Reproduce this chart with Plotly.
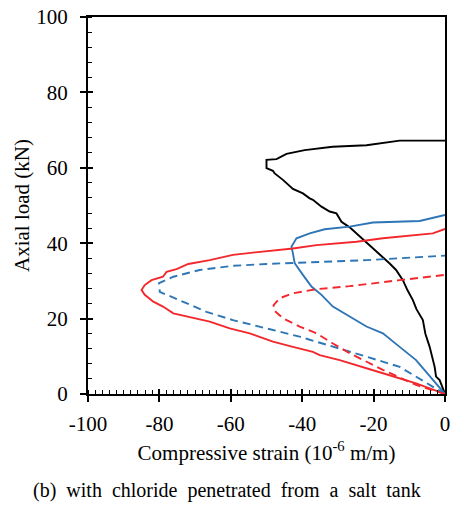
import plotly.graph_objects as go

# Black solid
blk_x = [0, -0.8, -1.5, -2.5, -2.9, -4.3, -5.5, -6.2, -8.0, -9.0, -10.5, -11.8, -13.7, -15.5, -17.4, -19.5, -22.0, -24.5, -26.7, -29.0, -30.4, -32.3, -34.6, -37.0, -37.9, -39.8, -42.6, -45.4, -47.7, -48.2, -50.0, -50.0, -47.2, -44.4, -39.3, -31.5, -22.0, -12.7, 0]
blk_y = [0, 1.9, 3.7, 4.6, 7.2, 12.5, 16.0, 19.6, 22.5, 24.9, 27.5, 30.2, 32.9, 34.6, 36.2, 38.2, 40.2, 42.2, 44.2, 45.7, 47.9, 48.4, 49.7, 51.5, 51.9, 53.2, 54.4, 56.8, 58.5, 59.2, 59.9, 62.1, 62.3, 63.7, 64.7, 65.6, 66.0, 67.2, 67.2]

# Blue solid
bs_x = [0, -3.4, -8.1, -12.7, -17.4, -22.0, -26.7, -31.4, -34.6, -37.4, -39.8, -42.1, -42.6, -43.0, -41.6, -37.9, -33.7, -26.7, -20.2, -7.1, 0]
bs_y = [0, 3.7, 9.0, 12.5, 16.1, 17.9, 20.5, 23.2, 26.3, 28.5, 31.6, 34.7, 37.3, 39.1, 41.3, 42.6, 43.7, 44.4, 45.5, 45.9, 47.5]

# Red solid
rs_x = [0, -8.1, -17.4, -22.0, -29.5, -35.1, -37.0, -42.6, -48.2, -54.7, -60.3, -65.9, -72.4, -76.1, -79.0, -81.7, -84.1, -85.0, -84.1, -82.2, -79.0, -78.0, -75.2, -71.9, -65.9, -59.4, -53.8, -42.6, -36.0, -24.8, -17.4, -3.4, 0]
rs_y = [0, 2.8, 5.5, 6.8, 9.0, 10.3, 11.2, 12.5, 13.9, 16.1, 17.4, 19.2, 20.5, 21.4, 23.2, 24.5, 26.3, 27.6, 28.9, 30.2, 31.1, 32.4, 33.1, 34.5, 35.5, 36.9, 37.5, 38.6, 39.5, 40.4, 41.3, 42.6, 43.8]

# Blue dashed
bd_x = [0, -12.7, -22.0, -31.4, -40.7, -50.0, -59.4, -66.8, -73.3, -79.9, -80.1, -76.1, -68.7, -59.4, -50.0, -40.7, -22.0, 0]
bd_y = [0, 7.2, 9.9, 12.5, 15.2, 17.4, 19.6, 21.8, 24.5, 27.1, 29.4, 31.1, 32.9, 34.0, 34.5, 34.8, 35.5, 36.7]

# Red dashed
rd_x = [0, -8.1, -17.4, -26.7, -31.4, -36.0, -40.7, -45.4, -48.0, -48.0, -46.3, -42.6, -36.0, -26.7, -12.7, 0]
rd_y = [0, 2.4, 6.4, 10.8, 13.4, 16.1, 17.9, 20.1, 22.3, 23.6, 25.4, 26.7, 27.8, 28.6, 30.2, 31.6]

x_ticks = [-100, -80, -60, -40, -20, 0]
y_ticks = [0, 20, 40, 60, 80, 100]

RED = "#F2282D"
BLUE = "#2E75B6"
LW = 1.9
DASH = "8px,5px"

fig = go.Figure()
fig.add_trace(go.Scatter(x=blk_x, y=blk_y, mode="lines", line=dict(color="black", width=LW)))
fig.add_trace(go.Scatter(x=bs_x, y=bs_y, mode="lines", line=dict(color=BLUE, width=LW)))
fig.add_trace(go.Scatter(x=rs_x, y=rs_y, mode="lines", line=dict(color=RED, width=LW)))
fig.add_trace(go.Scatter(x=bd_x, y=bd_y, mode="lines", line=dict(color=BLUE, width=LW, dash=DASH)))
fig.add_trace(go.Scatter(x=rd_x, y=rd_y, mode="lines", line=dict(color=RED, width=LW, dash=DASH)))

FONT = "Liberation Serif"
FS = 21
fig.update_layout(
    width=451, height=510,
    margin=dict(l=88, r=6, t=17, b=116, autoexpand=False),
    plot_bgcolor="white", paper_bgcolor="white",
    showlegend=False,
    font=dict(family=FONT, size=FS, color="black"),
    xaxis=dict(
        range=[-100, 0], tickvals=x_ticks, ticktext=[str(v) for v in x_ticks],
        ticks="outside", ticklen=6, tickwidth=1.5, tickcolor="black",
        showline=True, linecolor="black", linewidth=2, mirror=True,
        showgrid=False, zeroline=False, automargin=False,
        minor=dict(dtick=2, ticks="inside", ticklen=4, tickwidth=1.2, tickcolor="black", showgrid=False),
        title=dict(text="Compressive strain (10<sup>-6</sup> m/m)", standoff=10,
                   font=dict(family=FONT, size=FS, color="black")),
        tickfont=dict(family=FONT, size=FS, color="black"),
        ticklabelstandoff=4,
    ),
    yaxis=dict(
        range=[0, 100], tickvals=y_ticks, ticktext=[str(v) for v in y_ticks],
        ticks="outside", ticklen=6, tickwidth=1.5, tickcolor="black",
        showline=True, linecolor="black", linewidth=2, mirror=True,
        showgrid=False, zeroline=False, automargin=False,
        minor=dict(dtick=4, ticks="inside", ticklen=4, tickwidth=1.2, tickcolor="black", showgrid=False),
        title=dict(text="Axial load (kN)", standoff=1,
                   font=dict(family=FONT, size=FS, color="black")),
        tickfont=dict(family=FONT, size=FS, color="black"),
        ticklabelstandoff=8,
    ),
    xaxis2=dict(range=[-100, 0], overlaying="x", tickvals=x_ticks, showticklabels=False,
                ticks="inside", ticklen=5, tickwidth=1.5, tickcolor="black", showgrid=False,
                zeroline=False, showline=False, automargin=False),
    yaxis2=dict(range=[0, 100], overlaying="y", tickvals=y_ticks, showticklabels=False,
                ticks="inside", ticklen=5, tickwidth=1.5, tickcolor="black", showgrid=False,
                zeroline=False, showline=False, automargin=False),
)
fig.add_trace(go.Scatter(x=[], y=[], xaxis="x2", yaxis="y2", mode="lines", showlegend=False))

cap = "(b)\u00a0 with\u00a0 chloride\u00a0 penetrated\u00a0 from\u00a0 a\u00a0 salt\u00a0 tank"
fig.add_annotation(text=cap, xref="paper", yref="paper", x=0.388, y=-0.255, yanchor="middle",
                   xanchor="center", showarrow=False, font=dict(family=FONT, size=20, color="black"))

fig.write_html("out.html", config={"displayModeBar": False},
               post_script="document.body.style.margin='0px';document.body.style.overflow='hidden';")
